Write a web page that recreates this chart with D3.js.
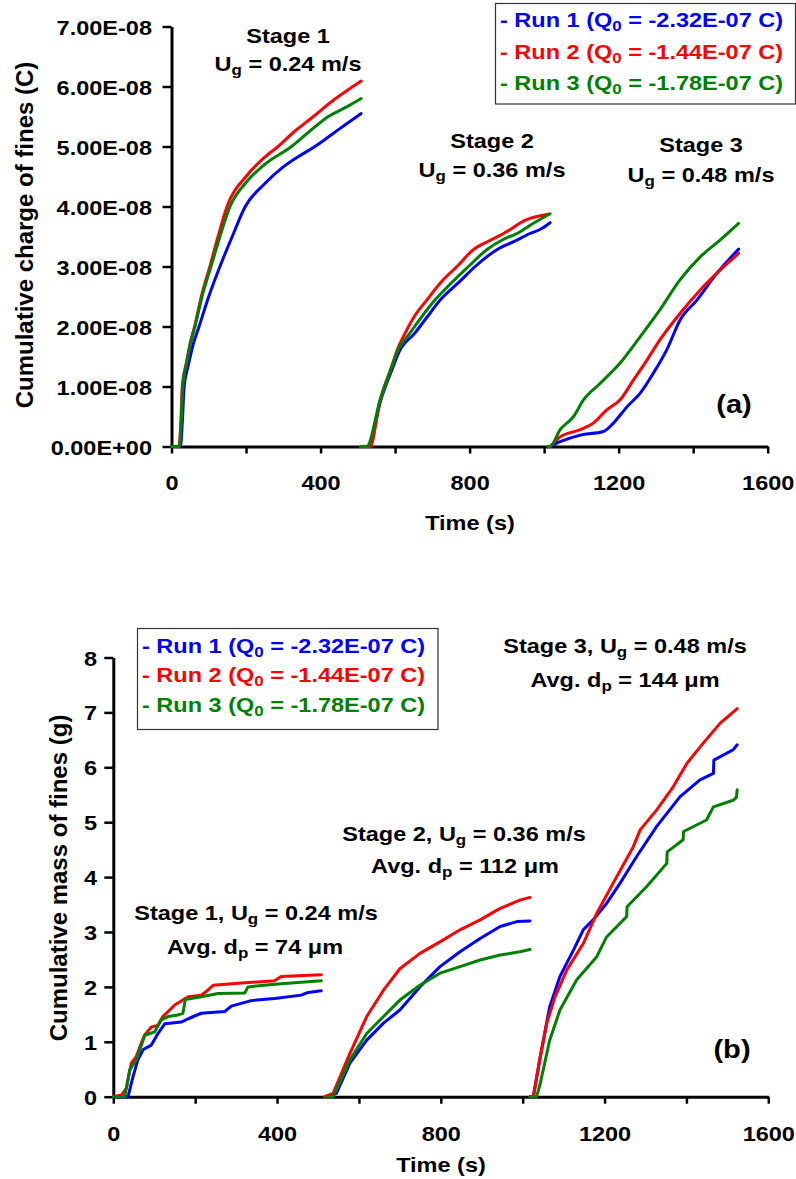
<!DOCTYPE html>
<html>
<head>
<meta charset="utf-8">
<script src="https://cdn.jsdelivr.net/npm/d3@7"></script>
<style>
  body { margin: 0; background: #fff; }
  text { font-family: Arial, "Liberation Sans", sans-serif; font-weight: bold; }
</style>
</head>
<body>
<div id="viz"></div>
<script>
const width = 796;
const height = 1179;
const stretch = 1.12; // the source text is a bit wider than plain Arial

const runColors = ['#0000ff', '#ff0000', '#008000'];
const runNames = ['Run 1', 'Run 2', 'Run 3'];
const q0Values = ['-2.32E-07', '-1.44E-07', '-1.78E-07'];
const stageNames = ['Stage 1', 'Stage 2', 'Stage 3'];
const ugValues = ['0.24', '0.36', '0.48'];
const dpValues = ['74', '112', '144'];

const timeTicks = [0, 200, 400, 600, 800, 1000, 1200, 1400, 1600];
const chargeTicks = [0, 1e-8, 2e-8, 3e-8, 4e-8, 5e-8, 6e-8, 7e-8];
const massTicks = [0, 1, 2, 3, 4, 5, 6, 7, 8];

// (a) cumulative charge, [time s, charge in 1E-08 C], one array per stage
const chargeRun1 = [
  [[0,0],[24,0],[29,0.4],[34,1.0],[45,1.35],[58,1.7],[74,2.0],[100,2.5],[130,3.0],[163,3.5],[198,4.0],[250,4.38],[300,4.66],[340,4.83],[385,5.0],[430,5.2],[470,5.38],[509,5.55]],
  [[515,0],[528,0],[562,0.78],[593,1.3],[611,1.58],[653,1.89],[685,2.15],[721,2.44],[770,2.73],[815,3.0],[873,3.28],[920,3.42],[962,3.55],[990,3.62],[1016,3.73]],
  [[1016,0],[1043,0.08],[1097,0.19],[1159,0.25],[1186,0.39],[1222,0.66],[1258,0.89],[1293,1.22],[1329,1.61],[1365,2.11],[1410,2.44],[1464,2.89],[1522,3.29]]
];
const chargeRun2 = [
  [[0,0],[20,0],[25,0.4],[29,1.0],[40,1.4],[50,1.72],[62,2.0],[80,2.5],[103,3.0],[125,3.5],[149,4.0],[200,4.5],[250,4.82],[286,5.0],[330,5.25],[381,5.5],[430,5.75],[480,5.97],[509,6.09]],
  [[510,0],[533,0],[560,0.78],[591,1.33],[606,1.61],[627,1.89],[655,2.2],[685,2.44],[725,2.75],[766,3.0],[810,3.28],[850,3.42],[891,3.55],[953,3.78],[1012,3.87]],
  [[1016,0],[1043,0.16],[1097,0.28],[1132,0.39],[1168,0.61],[1204,0.78],[1240,1.11],[1276,1.44],[1311,1.78],[1365,2.22],[1419,2.61],[1472,2.94],[1522,3.22]]
];
const chargeRun3 = [
  [[0,0],[21,0],[26,0.4],[30,1.0],[41,1.4],[51,1.72],[63,2.0],[82,2.5],[106,3.0],[130,3.5],[157,4.0],[200,4.4],[250,4.7],[322,5.0],[370,5.25],[421,5.5],[470,5.66],[509,5.8]],
  [[507,0],[524,0],[560,0.78],[591,1.33],[608,1.61],[640,1.89],[670,2.15],[707,2.44],[750,2.72],[797,3.0],[846,3.28],[890,3.45],[927,3.55],[971,3.72],[1016,3.88]],
  [[1010,0],[1016,0],[1043,0.28],[1079,0.5],[1106,0.78],[1150,1.05],[1204,1.39],[1258,1.83],[1311,2.28],[1365,2.78],[1419,3.16],[1472,3.44],[1522,3.72]]
];

// (b) cumulative mass, [time s, mass g]
const massRun1 = [
  [[0,0],[36,0],[48,0.36],[60,0.67],[73,0.86],[93,0.94],[109,1.15],[126,1.33],[166,1.36],[183,1.42],[215,1.52],[272,1.55],[288,1.65],[337,1.75],[394,1.79],[459,1.85],[476,1.9],[508,1.93]],
  [[525,0],[545,0.06],[578,0.61],[619,1.03],[660,1.34],[700,1.58],[749,2.0],[798,2.37],[847,2.64],[896,2.88],[945,3.1],[986,3.19],[1018,3.2]],
  [[1018,0],[1026,0],[1043,0.73],[1066,1.64],[1091,2.19],[1124,2.67],[1148,3.04],[1172,3.22],[1205,3.52],[1238,3.89],[1278,4.37],[1327,4.92],[1384,5.46],[1433,5.77],[1466,5.89],[1467,6.13],[1514,6.32],[1524,6.41]]
];
const massRun2 = [
  [[0,0],[20,0.03],[32,0.15],[44,0.61],[56,0.73],[68,0.97],[77,1.13],[93,1.27],[109,1.3],[121,1.46],[138,1.58],[150,1.67],[183,1.82],[215,1.85],[231,1.94],[244,2.03],[313,2.07],[394,2.11],[410,2.19],[508,2.22]],
  [[516,0],[537,0.06],[578,0.79],[619,1.46],[660,1.94],[700,2.33],[749,2.61],[798,2.82],[847,3.04],[896,3.22],[945,3.43],[993,3.58],[1018,3.63]],
  [[1018,0],[1026,0],[1043,0.73],[1059,1.34],[1079,1.82],[1108,2.31],[1148,2.79],[1181,3.34],[1221,3.89],[1270,4.55],[1287,4.86],[1327,5.22],[1368,5.65],[1401,6.07],[1441,6.44],[1482,6.8],[1524,7.07]]
];
const massRun3 = [
  [[0,0],[28,0],[40,0.49],[56,0.67],[77,1.12],[101,1.18],[117,1.4],[134,1.46],[158,1.49],[170,1.52],[176,1.77],[215,1.82],[256,1.88],[321,1.89],[329,2.0],[394,2.05],[508,2.11]],
  [[520,0],[537,0],[578,0.67],[619,1.15],[660,1.46],[700,1.76],[749,2.03],[798,2.25],[847,2.37],[896,2.49],[945,2.58],[993,2.64],[1018,2.68]],
  [[1018,0],[1034,0],[1043,0.24],[1066,1.03],[1091,1.58],[1132,2.13],[1181,2.55],[1205,2.91],[1254,3.28],[1255,3.46],[1303,3.83],[1352,4.25],[1353,4.46],[1392,4.68],[1393,4.83],[1449,5.04],[1466,5.28],[1514,5.4],[1522,5.45],[1524,5.59]]
];

const svg = d3.select('#viz')
  .append('svg')
  .attr('width', width)
  .attr('height', height)
  .attr('viewBox', [0, 0, width, height]);

// "7.00E-08" style labels
const sciFormat = v => {
  const [m, e] = v.toExponential(2).split('e');
  const exp = Math.abs(+e).toString().padStart(2, '0');
  return `${m}E${e[0] === '-' ? '-' : '+'}${exp}`;
};

// text with optional subscripts, parts = ['U', {sub: 'g'}, ' = ...']
const addText = (parent, x, y, parts, anchor = 'middle', size = 21, fill = '#000') => {
  const t = parent.append('text')
    .attr('transform', `translate(${x},${y}) scale(${stretch},1)`)
    .attr('text-anchor', anchor)
    .attr('font-size', size)
    .attr('fill', fill);
  let down = false;
  parts.forEach(p => {
    if (typeof p === 'string') {
      t.append('tspan').attr('dy', down ? -4 : 0).text(p);
      down = false;
    } else {
      t.append('tspan').attr('dy', 4).attr('font-size', size * 0.72).text(p.sub);
      down = true;
    }
  });
  return t;
};

const drawPanel = (cfg) => {
  const g = svg.append('g');

  // Axes
  const yAxis = g.append('g')
    .attr('transform', `translate(${cfg.x.range()[0]},0)`)
    .call(d3.axisLeft(cfg.y)
      .tickValues(cfg.yTicks)
      .tickSize(9)
      .tickSizeOuter(0)
      .tickFormat(cfg.yFormat));
  yAxis.selectAll('text')
    .attr('x', -cfg.yLabelGap / stretch)
    .attr('dy', '0.36em')
    .attr('transform', `scale(${stretch},1)`)
    .attr('font-size', 21)
    .attr('font-family', null)
    .attr('fill', '#000');

  const xAxis = g.append('g')
    .attr('transform', `translate(0,${cfg.y.range()[0]})`)
    .call(d3.axisBottom(cfg.x)
      .tickValues(timeTicks)
      .tickSize(7)
      .tickSizeOuter(0)
      .tickFormat(d => d % 400 === 0 ? d : ''));
  xAxis.selectAll('text')
    .attr('y', 44)
    .attr('dy', 0)
    .attr('transform', `scale(${stretch},1)`)
    .attr('font-size', 21)
    .attr('font-family', null)
    .attr('fill', '#000');

  g.selectAll('.domain').attr('stroke', '#000').attr('stroke-width', 3);
  g.selectAll('.tick line').attr('stroke', '#000').attr('stroke-width', 2.5);

  // Lines, one path per stage
  const line = d3.line()
    .x(d => cfg.x(d[0]))
    .y(d => cfg.y(d[1] * cfg.unit))
    .curve(cfg.curve);

  cfg.runs.forEach((stages, i) => {
    g.selectAll(null)
      .data(stages)
      .join('path')
      .attr('d', line)
      .attr('fill', 'none')
      .attr('stroke', runColors[i])
      .attr('stroke-width', 3)
      .attr('stroke-linejoin', 'round')
      .attr('stroke-linecap', 'round');
  });

  // Axis titles
  g.append('text')
    .attr('transform', `translate(${cfg.yTitle[0]},${cfg.yTitle[1]}) rotate(-90)`)
    .attr('text-anchor', 'middle')
    .attr('font-size', 24)
    .text(cfg.yTitleText);
  addText(g, cfg.xTitle[0], cfg.xTitle[1], ['Time (s)']);

  // Legend
  const lg = cfg.legend;
  g.append('rect')
    .attr('x', lg.x).attr('y', lg.y)
    .attr('width', lg.w).attr('height', lg.h)
    .attr('fill', 'none')
    .attr('stroke', '#333')
    .attr('stroke-width', 1.2);
  runNames.forEach((name, i) => {
    addText(g, lg.x + 4.5, lg.rows[i], [`- ${name} (Q`, {sub: '0'}, ` = ${q0Values[i]} C)`], 'start', 21, runColors[i]);
  });

  // Stage notes
  cfg.notes.forEach(n => addText(g, n.x, n.y, n.parts));
  addText(g, cfg.tag[0], cfg.tag[1], [cfg.tag[2]], 'middle', 26);
};

const xA = d3.scaleLinear().domain([0, 1600]).range([171.5, 767.7]);
const yA = d3.scaleLinear().domain([0, 7e-8]).range([446.5, 26.5]);
const xB = d3.scaleLinear().domain([0, 1600]).range([113.3, 768.3]);
const yB = d3.scaleLinear().domain([0, 8]).range([1096.7, 657.5]);

drawPanel({
  x: xA, y: yA, unit: 1e-8, curve: d3.curveMonotoneX,
  yTicks: chargeTicks, yFormat: sciFormat, yLabelGap: 19.5,
  runs: [chargeRun1, chargeRun2, chargeRun3],
  yTitleText: 'Cumulative charge of fines (C)', yTitle: [33, 235],
  xTitle: [470, 530],
  legend: {x: 495.5, y: 3.5, w: 300, h: 100.5, rows: [26.7, 58.5, 90]},
  notes: [
    {x: 288, y: 42.7, parts: [stageNames[0]]},
    {x: 288, y: 71, parts: ['U', {sub: 'g'}, ` = ${ugValues[0]} m/s`]},
    {x: 492, y: 148, parts: [stageNames[1]]},
    {x: 492, y: 177, parts: ['U', {sub: 'g'}, ` = ${ugValues[1]} m/s`]},
    {x: 701, y: 152, parts: [stageNames[2]]},
    {x: 701, y: 182, parts: ['U', {sub: 'g'}, ` = ${ugValues[2]} m/s`]}
  ],
  tag: [734, 413, '(a)']
});

drawPanel({
  x: xB, y: yB, unit: 1, curve: d3.curveLinear,
  yTicks: massTicks, yFormat: d3.format('d'), yLabelGap: 16.3,
  runs: [massRun1, massRun2, massRun3],
  yTitleText: 'Cumulative mass of fines (g)', yTitle: [66.7, 878],
  xTitle: [441, 1171.7],
  legend: {x: 137.5, y: 628.5, w: 300.5, h: 101, rows: [653, 682, 712]},
  notes: [
    {x: 625, y: 653, parts: [`${stageNames[2]}, U`, {sub: 'g'}, ` = ${ugValues[2]} m/s`]},
    {x: 625, y: 687, parts: ['Avg. d', {sub: 'p'}, ` = ${dpValues[2]} μm`]},
    {x: 464, y: 841, parts: [`${stageNames[1]}, U`, {sub: 'g'}, ` = ${ugValues[1]} m/s`]},
    {x: 465, y: 873, parts: ['Avg. d', {sub: 'p'}, ` = ${dpValues[1]} μm`]},
    {x: 256, y: 920, parts: [`${stageNames[0]}, U`, {sub: 'g'}, ` = ${ugValues[0]} m/s`]},
    {x: 255, y: 954, parts: ['Avg. d', {sub: 'p'}, ` = ${dpValues[0]} μm`]}
  ],
  tag: [732, 1058, '(b)']
});
</script>
</body>
</html>
